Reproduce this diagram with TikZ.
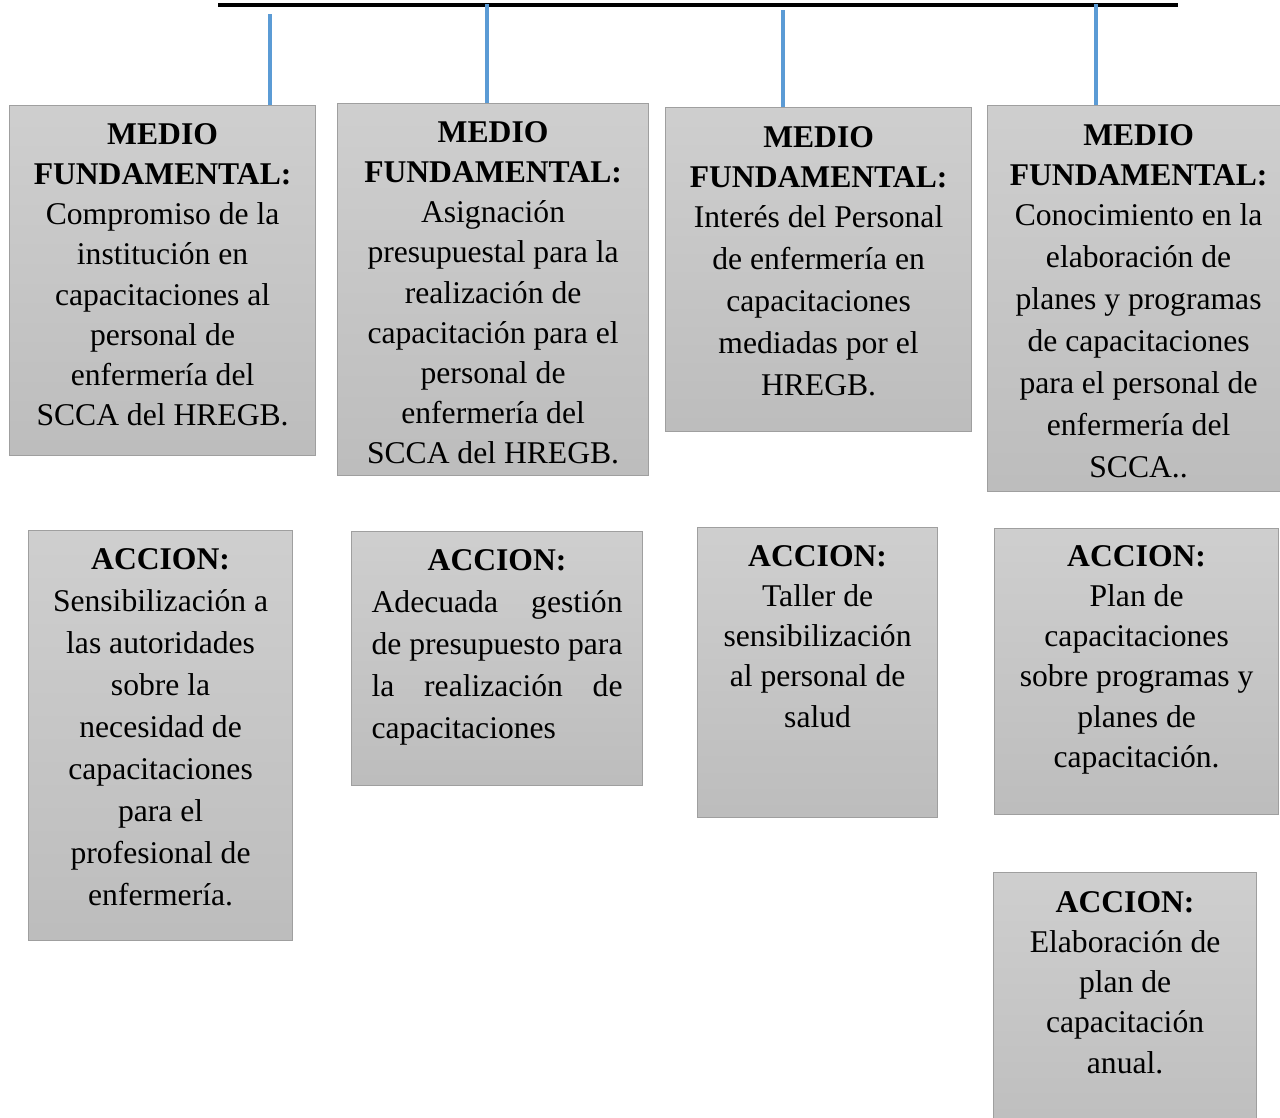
\documentclass[tikz,border=0pt]{standalone}
\usepackage{fontspec}
\setmainfont{Liberation Serif}
\usetikzlibrary{positioning}
\definecolor{azul}{RGB}{91,155,213}

\begin{document}
\begin{tikzpicture}[x=0.02cm,y=-0.02cm,
        caja/.style={draw=gray!75,line width=0.7pt,top color=gray!38,bottom color=gray!52,
            inner sep=0pt,anchor=north west},
        texto/.style={anchor=north,align=center,inner sep=0pt,font=\fontsize{18}{22.8}\selectfont},
        holgado/.style={font=\fontsize{18}{23.9}\selectfont},
        enlace/.style={draw=azul,line width=2.2pt}]
    \useasboundingbox (0,0) rectangle (1280,1117);
    % subrayado del titulo
    \draw[line width=2pt] (218,5) -- (1178,5);
    \coordinate (r1) at (270,14);
    \coordinate (r2) at (487,4);
    \coordinate (r3) at (783,10);
    \coordinate (r4) at (1096,4);
    % medios fundamentales
    \node[caja,minimum width=6.12cm,minimum height=7cm] (mf1) at (9,105) {};
    \node[caja,minimum width=6.22cm,minimum height=7.44cm] (mf2) at (337,103) {};
    \node[caja,minimum width=6.12cm,minimum height=6.48cm] (mf3) at (665,107) {};
    \node[caja,minimum width=6.04cm,minimum height=7.72cm] (mf4) at (987,105) {};
    \draw[enlace] (r1) -- (r1 |- mf1.north);
    \draw[enlace] (r2) -- (r2 |- mf2.north);
    \draw[enlace] (r3) -- (r3 |- mf3.north);
    \draw[enlace] (r4) -- (r4 |- mf4.north);
    \node[texto,below=0.37cm of mf1.north] (t1) {\textbf{MEDIO}\\\textbf{FUNDAMENTAL:}\\Compromiso de la\\institución en\\capacitaciones al\\personal de\\enfermería del\\SCCA del HREGB.};
    \node[texto,below=0.37cm of mf2.north] (t2) {\textbf{MEDIO}\\\textbf{FUNDAMENTAL:}\\Asignación\\presupuestal para la\\realización de\\capacitación para el\\personal de\\enfermería del\\SCCA del HREGB.};
    \node[texto,holgado,below=0.39cm of mf3.north] (t3) {\textbf{MEDIO}\\[-1.1pt]\textbf{FUNDAMENTAL:}\\[-1.1pt]Interés del Personal\\de enfermería en\\capacitaciones\\mediadas por el\\HREGB.};
    \node[texto,holgado,below=0.39cm of mf4.north] (t4) {\textbf{MEDIO}\\[-1.1pt]\textbf{FUNDAMENTAL:}\\[-1.1pt]Conocimiento en la\\elaboración de\\planes y programas\\de capacitaciones\\para el personal de\\enfermería del\\SCCA..};
    % acciones
    \node[caja,minimum width=5.28cm,minimum height=8.2cm] (a1) at (28,530) {};
    \node[caja,minimum width=5.82cm,minimum height=5.08cm] (a2) at (351,531) {};
    \node[caja,minimum width=4.8cm,minimum height=5.8cm] (a3) at (697,527) {};
    \node[caja,minimum width=5.68cm,minimum height=5.72cm] (a4) at (994,528) {};
    \node[caja,minimum width=5.26cm,minimum height=5.6cm] (a5) at (993,872) {};
    \node[texto,holgado,below=0.37cm of a1.north] (u1) {\textbf{ACCION:}\\Sensibilización a\\las autoridades\\sobre la\\necesidad de\\capacitaciones\\para el\\profesional de\\enfermería.};
    \node[texto,holgado,below=0.37cm of a2.north] (u2) {\textbf{ACCION:}\\\hbox to 5.02cm{Adecuada\hfill gestión}\\\hbox to 5.02cm{de presupuesto para}\\\hbox to 5.02cm{la\hfill realización\hfill de}\\\hbox to 5.02cm{capacitaciones\hfill}};
    \node[texto,below=0.37cm of a3.north] (u3) {\textbf{ACCION:}\\Taller de\\sensibilización\\al personal de\\salud};
    \node[texto,below=0.35cm of a4.north] (u4) {\textbf{ACCION:}\\Plan de\\capacitaciones\\sobre programas y\\planes de\\capacitación.};
    \node[texto,below=0.39cm of a5.north] (u5) {\textbf{ACCION:}\\Elaboración de\\plan de\\capacitación\\anual.};
\end{tikzpicture}
\end{document}
